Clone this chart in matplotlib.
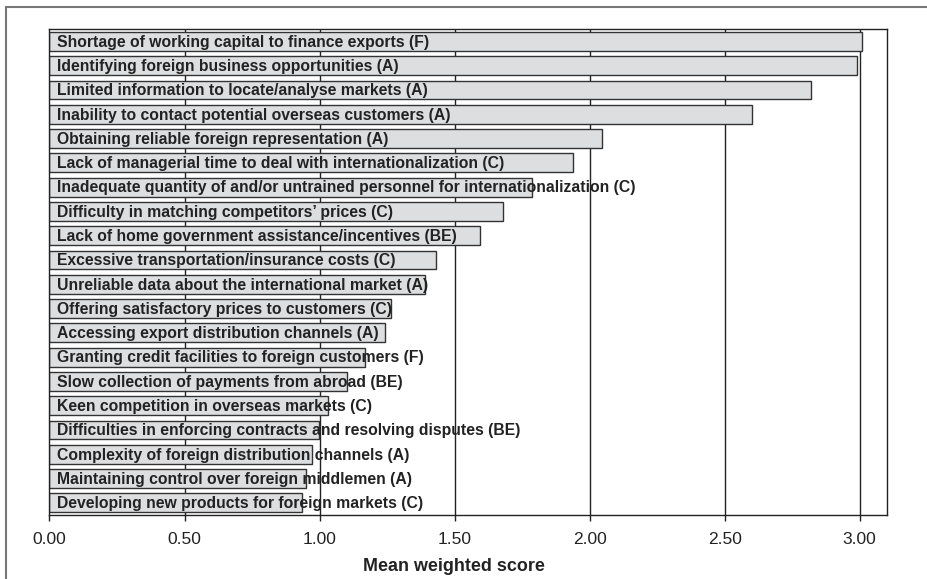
import numpy as np
import matplotlib
matplotlib.use('Agg')
import matplotlib.pyplot as plt
from matplotlib.patches import Rectangle

plt.rcParams['font.family'] = ['Liberation Sans', 'DejaVu Sans']

# barriers, top to bottom
labels = [
    'Shortage of working capital to finance exports (F)',
    'Identifying foreign business opportunities (A)',
    'Limited information to locate/analyse markets (A)',
    'Inability to contact potential overseas customers (A)',
    'Obtaining reliable foreign representation (A)',
    'Lack of managerial time to deal with internationalization (C)',
    'Inadequate quantity of and/or untrained personnel for internationalization (C)',
    'Difficulty in matching competitors\u2019 prices (C)',
    'Lack of home government assistance/incentives (BE)',
    'Excessive transportation/insurance costs (C)',
    'Unreliable data about the international market (A)',
    'Offering satisfactory prices to customers (C)',
    'Accessing export distribution channels (A)',
    'Granting credit facilities to foreign customers (F)',
    'Slow collection of payments from abroad (BE)',
    'Keen competition in overseas markets (C)',
    'Difficulties in enforcing contracts and resolving disputes (BE)',
    'Complexity of foreign distribution channels (A)',
    'Maintaining control over foreign middlemen (A)',
    'Developing new products for foreign markets (C)',
]
scores = [3.01, 2.99, 2.82, 2.60, 2.045, 1.94, 1.785, 1.68, 1.595, 1.43,
          1.39, 1.265, 1.243, 1.17, 1.10, 1.033, 0.999, 0.971, 0.95, 0.936]
xticks = [0.0, 0.5, 1.0, 1.5, 2.0, 2.5, 3.0]

fig = plt.figure(figsize=(9.28, 5.79), dpi=100)
ax = fig.add_axes([0.0533, 0.1105, 0.9022, 0.8389])

# outer frame around the figure
fig.patches.append(Rectangle((6 / 928, -0.05), 1.2, 1 - 7 / 579 + 0.05,
                             transform=fig.transFigure, fill=False,
                             edgecolor='#777777', linewidth=1.5))

y = np.arange(len(labels))
ax.barh(y, scores, height=0.78, color='#dddee0', edgecolor='#333333',
        linewidth=1.0, zorder=2)
for yi, lab in zip(y, labels):
    ax.text(0.028, yi + 0.03, lab, va='center', ha='left', fontsize=11.3,
            fontweight='bold', color='#222222', zorder=3)

for xv in xticks[1:]:
    ax.axvline(xv, color='#222222', linewidth=1.0, zorder=0.5)

ax.set_ylim(len(labels) - 0.5, -0.5)
ax.set_xlim(0, 3.1)
ax.set_yticks([])
ax.set_xticks(xticks)
ax.set_xticklabels(['%.2f' % v for v in xticks], fontsize=12.5, color='#222222')
ax.tick_params(axis='x', direction='out', length=4, width=1, pad=8, color='#222222')
for s in ax.spines.values():
    s.set_color('#222222')
    s.set_linewidth(1.0)
ax.set_xlabel('Mean weighted score', fontsize=12.9, fontweight='bold',
              color='#222222', labelpad=8, x=0.483)

fig.savefig('out.png', dpi=100)
